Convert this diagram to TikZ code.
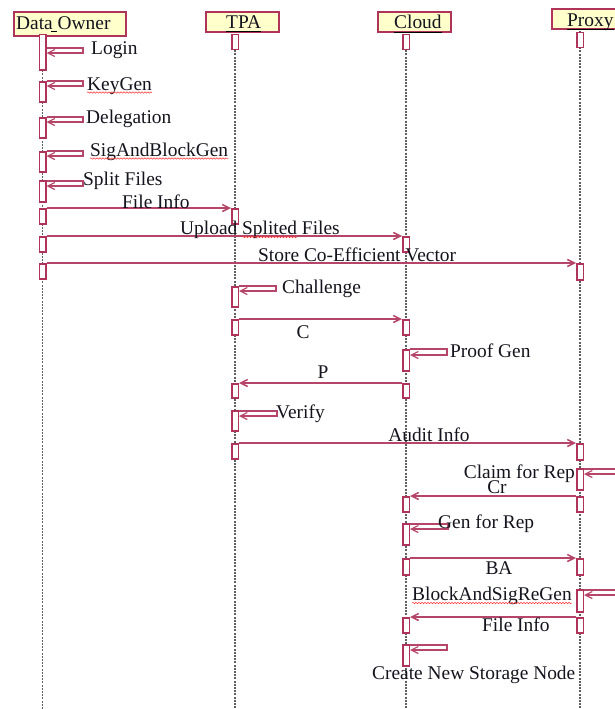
\documentclass[tikz,border=0pt]{standalone}
\usepackage{fontspec}
\setmainfont{Liberation Serif}
\usetikzlibrary{arrows.meta,calc,decorations.pathmorphing}
\definecolor{crim}{RGB}{176,52,90}
\definecolor{arrc}{RGB}{182,70,105}
\definecolor{hdrfill}{RGB}{255,255,204}
\definecolor{txt}{RGB}{20,20,30}
\definecolor{lifec}{RGB}{95,95,95}
\newcommand\selfloop[4]{\draw[selfmsg] (#1.east |- 0,#2) -- (#4,#2) -- (#4,#3) -- (#1.east |- 0,#3);}
\begin{document}
\begin{tikzpicture}[x=1pt,y=-1pt, font=\fontsize{19.4}{22}\selectfont,
 hdr/.style={draw=crim, fill=hdrfill, line width=1.6pt, inner sep=0, anchor=north west},
 act/.style={draw=crim, fill=white, line width=1.5pt, minimum width=6.5pt, inner sep=0, anchor=north},
 life/.style={draw=lifec, line width=1.4pt, dash pattern=on 2pt off 1.2pt},
 msg/.style={draw=arrc, line width=1.5pt, -{Straight Barb[length=7pt,width=7pt]}},
 selfmsg/.style={draw=arrc, line width=1.2pt, -{Straight Barb[length=7pt,width=7pt]}},
 lbl/.style={inner sep=0, text=txt},
 uline/.style={draw=black, line width=1pt},
 wavy/.style={draw=red!80, line width=0.5pt, decorate, decoration={snake, amplitude=0.7pt, segment length=3pt}}]
\fill[white] (0,0) rectangle (614,709);
\useasboundingbox (0,0) rectangle (614,709);

% lifelines
\coordinate (lDO) at (42.5,35);
\coordinate (lTPA) at (235,31);
\coordinate (lCL) at (406,31);
\coordinate (lPX) at (580,28);
\foreach \c in {lDO,lTPA,lCL,lPX} \draw[life] (\c) -- (\c |- 0,715);

% headers
\node[hdr, minimum width=112pt, minimum height=24pt] (hDO) at (13,11) {};
\node[hdr, minimum width=73pt, minimum height=20pt] (hTPA) at (205,11) {};
\node[hdr, minimum width=73pt, minimum height=20pt] (hCL) at (377,11) {};
\node[hdr, minimum width=80pt, minimum height=20pt] (hPX) at (551,8) {};
\node[lbl, anchor=base west] (tDO) at (16,29.5) {Data Owner};
\node[lbl, anchor=base west] (tTPA) at (226,29) {TPA};
\node[lbl, anchor=base west] (tCL) at (394,29) {Cloud};
\node[lbl, anchor=base west] (tPX) at (567,27) {Proxy};
\draw[uline] ($(tDO.base west)+(35,2.5)$) -- ($(tDO.base west)+(41,2.5)$);
\draw[uline] (tTPA.base west |- 0,32) -- (tTPA.base east |- 0,32);
\draw[uline] (tCL.base west |- 0,33) -- (tCL.base east |- 0,33);
\draw[uline] (tPX.base west |- 0,30) -- (tPX.base east |- 0,30);

% activations: Data Owner
\node[act, minimum height=35pt] (a1) at (42.5,34) {};
\node[act, minimum height=20pt] (a2) at (42.5,81) {};
\node[act, minimum height=20pt] (a3) at (42.5,117) {};
\node[act, minimum height=20pt] (a4) at (42.5,151) {};
\node[act, minimum height=21pt] (a5) at (42.5,180) {};
\node[act, minimum height=15pt] (a6) at (42.5,208) {};
\node[act, minimum height=15pt] (a7) at (42.5,236) {};
\node[act, minimum height=15pt] (a8) at (42.5,263) {};
% TPA
\node[act, minimum height=15pt] (t0) at (235,34) {};
\node[act, minimum height=15pt] (t6) at (235,208) {};
\node[act, minimum height=20pt] (t9) at (235,286) {};
\node[act, minimum height=15pt] (t10) at (235,319) {};
\node[act, minimum height=14pt] (t12) at (235,383) {};
\node[act, minimum height=20pt] (t13) at (235,410) {};
\node[act, minimum height=15pt] (t14) at (235,443) {};
% Cloud
\node[act, minimum height=15pt] (c0) at (406,34) {};
\node[act, minimum height=15pt] (c7) at (406,236) {};
\node[act, minimum height=15pt] (c10) at (406,319) {};
\node[act, minimum height=21pt] (c11) at (406,349) {};
\node[act, minimum height=14pt] (c12) at (406,383) {};
\node[act, minimum height=15pt] (c16) at (406,496) {};
\node[act, minimum height=21pt] (c17) at (406,523) {};
\node[act, minimum height=16pt] (c18) at (406,558) {};
\node[act, minimum height=15pt] (c20) at (406,617) {};
\node[act, minimum height=21pt] (c21) at (406,644) {};
% Proxy
\node[act, minimum height=15pt] (p0) at (580,32) {};
\node[act, minimum height=16pt] (p8) at (580,263) {};
\node[act, minimum height=16pt] (p14) at (580,443) {};
\node[act, minimum height=21pt] (p15) at (580,468) {};
\node[act, minimum height=15pt] (p16) at (580,496) {};
\node[act, minimum height=16pt] (p18) at (580,558) {};
\node[act, minimum height=22pt] (p19) at (580,589) {};
\node[act, minimum height=15pt] (p20) at (580,617) {};

% self messages
\selfloop{a1}{48}{53}{83}
\selfloop{a2}{81}{86}{83}
\selfloop{a3}{117}{122}{83}
\selfloop{a4}{151}{156}{83}
\selfloop{a5}{181}{186}{83}
\selfloop{t9}{286}{291}{276}
\selfloop{c11}{349}{355}{447}
\selfloop{t13}{411}{416}{277}
\selfloop{c17}{524}{529}{448}
\selfloop{c21}{645}{650}{447}
\selfloop{p15}{469}{474}{640}
\selfloop{p19}{590}{595}{640}

% messages
\draw[msg] (a6.north east) -- (t6.north west);
\draw[msg] (a7.north east) -- (c7.north west);
\draw[msg] (a8.north east) -- (p8.north west);
\draw[msg] (t10.north east) -- (c10.north west);
\draw[msg] (c12.north west) -- (t12.north east);
\draw[msg] (t14.north east) -- (p14.north west);
\draw[msg] (p16.north west) -- (c16.north east);
\draw[msg] (c18.north east) -- (p18.north west);
\draw[msg] (p20.north west) -- (c20.north east);

% labels
\node[lbl, anchor=base west] (lb1) at (91,55) {Login};
\node[lbl, anchor=base west] (lb2) at (87,90) {KeyGen};
\node[lbl, anchor=base west] (lb3) at (86,123) {Delegation};
\node[lbl, anchor=base west] (lb4) at (90,156) {SigAndBlockGen};
\node[lbl, anchor=base west] (lb5) at (83,185) {Split Files};
\node[lbl, anchor=base west] (lb6) at (122,208) {File Info};
\node[lbl, anchor=base west] (lb7) at (180,234) {Upload Splited Files};
\node[lbl, anchor=base west] (lb8) at (258,261) {Store Co-Efficient Vector};
\node[lbl, anchor=base west] (lb9) at (282,293) {Challenge};
\node[lbl, anchor=base] (lb10) at (303,338) {C};
\node[lbl, anchor=base west] (lb11) at (450,357) {Proof Gen};
\node[lbl, anchor=base] (lb12) at (323,378) {P};
\node[lbl, anchor=base west] (lb13) at (276,418) {Verify};
\node[lbl, anchor=base] (lb14) at (429,441) {Audit Info};
\node[lbl, anchor=base east] (lb15) at (575,478) {Claim for Rep};
\node[lbl, anchor=base] (lb16) at (497,493) {Cr};
\node[lbl, anchor=base west] (lb17) at (438,528) {Gen for Rep};
\node[lbl, anchor=base] (lb18) at (499,574) {BA};
\node[lbl, anchor=base west] (lb19) at (412,600) {BlockAndSigReGen};
\node[lbl, anchor=base west] (lb20) at (482,631) {File Info};
\node[lbl, anchor=base west] (lb21) at (372,679) {Create New Storage Node};

% spell-check underlines
\draw[wavy] ($(lb2.base west)+(0,2.5)$) -- ($(lb2.base east)+(0,2.5)$);
\draw[wavy] ($(lb4.base west)+(0,2.5)$) -- ($(lb4.base east)+(0,2.5)$);
\draw[wavy] ($(lb7.base west)+(62,3)$) -- ($(lb7.base west)+(117,3)$);
\draw[wavy] ($(lb19.base west)+(0,3)$) -- ($(lb19.base east)+(0,3)$);
\end{tikzpicture}
\end{document}
